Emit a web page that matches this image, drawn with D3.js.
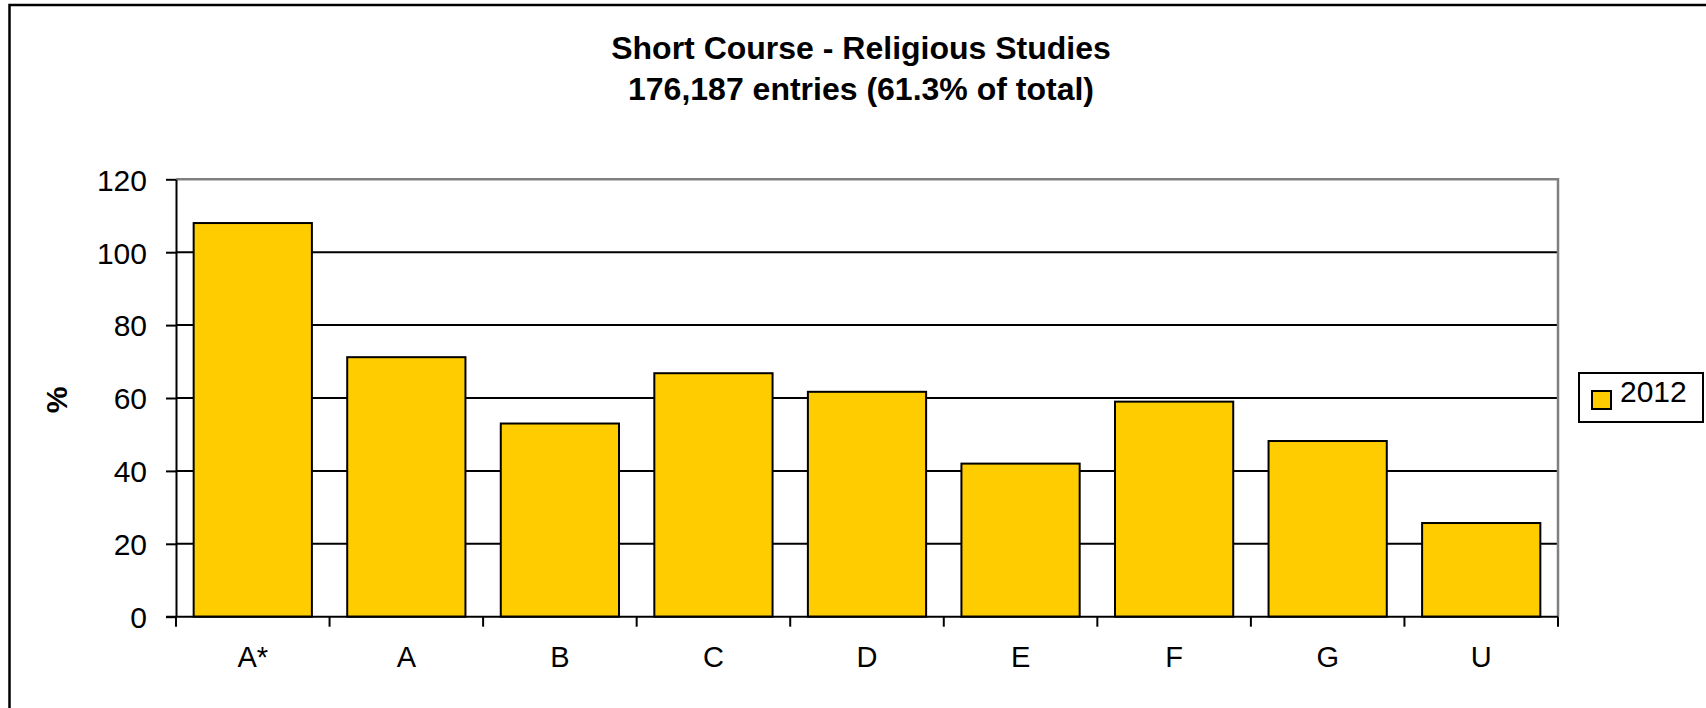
<!DOCTYPE html>
<html>
<head>
<meta charset="utf-8">
<script src="https://cdn.jsdelivr.net/npm/d3@7"></script>
<style>
  body { margin: 0; background: #fff; }
  text { font-family: "Liberation Sans", Arial, sans-serif; fill: #000; }
</style>
</head>
<body>
<div class="canvas"></div>
<script>
// data
const grades = ['A*', 'A', 'B', 'C', 'D', 'E', 'F', 'G', 'U'];
const values2012 = [108, 71.2, 53, 66.8, 61.7, 42, 59, 48.2, 25.7];
const yTicks = [0, 20, 40, 60, 80, 100, 120];
const seriesName = '2012';
const titleLines = ['Short Course - Religious Studies', '176,187 entries (61.3% of total)'];

const dims = { width: 1706, height: 708 };
const plot = { left: 176, right: 1558, top: 179.3, bottom: 616.7 };
const barColor = '#ffcc00';

const svg = d3.select('.canvas')
    .append('svg')
    .attr('width', dims.width)
    .attr('height', dims.height);

// outer frame (only top and left edges are visible)
svg.append('rect')
    .attr('x', 9.5)
    .attr('y', 5)
    .attr('width', dims.width)
    .attr('height', dims.height)
    .attr('fill', 'none')
    .attr('stroke', '#000')
    .attr('stroke-width', 2.5);

// title
const title = svg.append('g')
    .attr('transform', 'translate(861, 0)');

title.selectAll('text')
    .data(titleLines)
    .enter()
    .append('text')
    .attr('x', 0)
    .attr('y', (d, i) => 59 + i * 41)
    .attr('text-anchor', 'middle')
    .attr('font-size', 32)
    .attr('font-weight', 'bold')
    .text(d => d);

// scales
const x = d3.scaleBand()
    .domain(grades)
    .range([plot.left, plot.right])
    .paddingInner(0.23)
    .paddingOuter(0.115);

const y = d3.scaleLinear()
    .domain([0, 120])
    .range([plot.bottom, plot.top]);

// gridlines
svg.append('g')
    .selectAll('line')
    .data(yTicks.filter(d => d > 0 && d < 120))
    .enter()
    .append('line')
    .attr('x1', plot.left)
    .attr('x2', plot.right)
    .attr('y1', d => y(d))
    .attr('y2', d => y(d))
    .attr('stroke', '#000')
    .attr('stroke-width', 2);

// plot area top and right borders
svg.append('path')
    .attr('d', `M${plot.left},${plot.top}H${plot.right}V${plot.bottom}`)
    .attr('fill', 'none')
    .attr('stroke', '#808080')
    .attr('stroke-width', 2.5);

// bars
svg.append('g')
    .selectAll('rect')
    .data(values2012)
    .enter()
    .append('rect')
    .attr('x', (d, i) => x(grades[i]))
    .attr('y', d => y(d))
    .attr('width', x.bandwidth())
    .attr('height', d => y(0) - y(d))
    .attr('fill', barColor)
    .attr('stroke', '#000')
    .attr('stroke-width', 2);

// y axis
const yAxis = d3.axisLeft(y)
    .tickValues(yTicks)
    .tickSize(10)
    .tickPadding(19)
    .tickSizeOuter(0);

const yg = svg.append('g')
    .attr('transform', `translate(${plot.left}, 0)`)
    .call(yAxis);
yg.select('.domain').attr('stroke-width', 2);
yg.selectAll('.tick line').attr('stroke-width', 2);
yg.selectAll('text')
    .attr('font-family', '"Liberation Sans", Arial, sans-serif')
    .attr('font-size', 30)
    .attr('fill', '#000')
    .attr('dy', '0.36em');

// x axis with ticks between categories
const xg = svg.append('g')
    .attr('transform', `translate(0, ${plot.bottom})`);

xg.append('line')
    .attr('x1', plot.left - 10)
    .attr('x2', plot.right)
    .attr('stroke', '#000')
    .attr('stroke-width', 2);

const bounds = grades.map(g => x(g) - x.step() * x.paddingOuter()).concat([plot.right]);
xg.selectAll('.xtick')
    .data(bounds)
    .enter()
    .append('line')
    .attr('class', 'xtick')
    .attr('x1', d => d)
    .attr('x2', d => d)
    .attr('y1', 0)
    .attr('y2', 10)
    .attr('stroke', '#000')
    .attr('stroke-width', 2);

xg.selectAll('.xlabel')
    .data(grades)
    .enter()
    .append('text')
    .attr('class', 'xlabel')
    .attr('x', d => x(d) + x.bandwidth() / 2)
    .attr('y', 50)
    .attr('text-anchor', 'middle')
    .attr('font-size', 29)
    .text(d => d);

// y axis title
svg.append('text')
    .attr('transform', 'translate(67, 400) rotate(-90)')
    .attr('text-anchor', 'middle')
    .attr('font-size', 30)
    .attr('font-weight', 'bold')
    .text('%');

// legend
const legend = svg.append('g')
    .attr('transform', 'translate(1579, 373)');

legend.append('rect')
    .attr('width', 124)
    .attr('height', 49)
    .attr('fill', '#fff')
    .attr('stroke', '#000')
    .attr('stroke-width', 2);

legend.append('rect')
    .attr('x', 13)
    .attr('y', 18)
    .attr('width', 19)
    .attr('height', 18)
    .attr('fill', barColor)
    .attr('stroke', '#000')
    .attr('stroke-width', 2);

legend.append('text')
    .attr('x', 41)
    .attr('y', 29)
    .attr('font-size', 30)
    .text(seriesName);
</script>
</body>
</html>
